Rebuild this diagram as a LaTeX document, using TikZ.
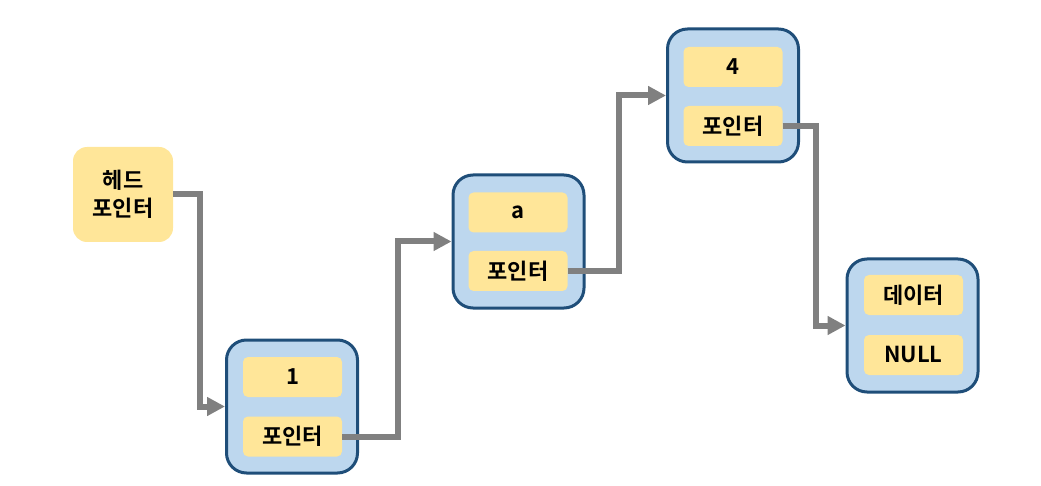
\documentclass[tikz,border=0pt]{standalone}
\usepackage{fontspec}
\setmainfont{Noto Sans CJK KR}[BoldFont={* Bold}]
\usetikzlibrary{arrows.meta}
\definecolor{nodeyel}{HTML}{FFE699}
\definecolor{nodeblue}{HTML}{BDD7EE}
\definecolor{nodeborder}{HTML}{1F4E79}
\definecolor{linkgray}{HTML}{808080}
\tikzset{
  headbox/.style={fill=nodeyel, rounded corners=14pt, minimum width=100pt, minimum height=95pt, align=center, font=\bfseries\fontsize{22}{28}\selectfont, inner sep=0pt},
  outerbox/.style={fill=nodeblue, draw=nodeborder, line width=3pt, rounded corners=20pt, minimum width=131pt, minimum height=133pt, inner sep=0pt},
  fieldbox/.style={fill=nodeyel, rounded corners=5pt, minimum width=99pt, minimum height=40pt, inner sep=0pt, font=\bfseries\fontsize{22}{26}\selectfont},
  link/.style={draw=linkgray, line width=6pt, -{Triangle[length=18pt,width=18pt]}},
}
\begin{document}
\begin{tikzpicture}[x=1pt,y=-1pt]
\useasboundingbox (0,0) rectangle (1041,486);
\node[headbox] (head) at (123,194.5) {헤드\\포인터};

\node[outerbox] (n1) at (292,406.5) {};
\node[fieldbox] (d1) at (292.5,377) {1};
\node[fieldbox] (p1) at (292.5,436.5) {포인터};

\node[outerbox] (n2) at (518.5,241.5) {};
\node[fieldbox] (d2) at (518,212.5) {a};
\node[fieldbox] (p2) at (518,271) {포인터};

\node[outerbox] (n3) at (733,95.5) {};
\node[fieldbox] (d3) at (733,67) {4};
\node[fieldbox] (p3) at (733,126) {포인터};

\node[outerbox] (n4) at (912.5,325.5) {};
\node[fieldbox] (d4) at (913.5,295) {데이터};
\node[fieldbox] (p4) at (913.5,355) {NULL};

\draw[link] (head.east) -- ++(27,0) |- (n1.west);
\draw[link] (p1.east) -- ++(56,0) |- (n2.west);
\draw[link] (p2.east) -- ++(51,0) |- (n3.west);
\draw[link] (p3.east) -- ++(33,0) |- (n4.west);
\end{tikzpicture}
\end{document}
